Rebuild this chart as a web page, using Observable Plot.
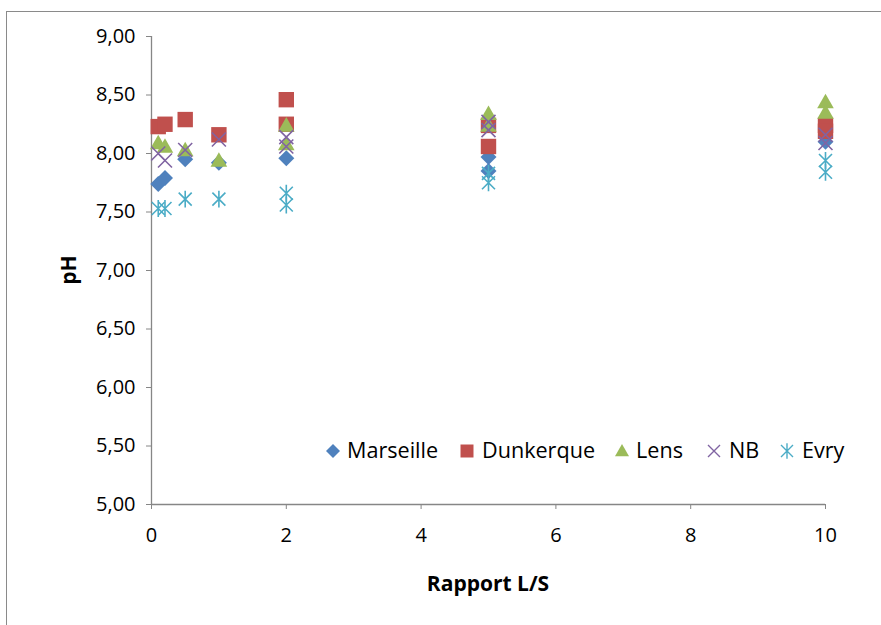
<!DOCTYPE html>
<html><head><meta charset="utf-8">
<script src="https://cdn.jsdelivr.net/npm/d3@7"></script>
<script src="https://cdn.jsdelivr.net/npm/@observablehq/plot@0.6"></script>
<style>
body{margin:0;background:#fff;}
#wrap{position:relative;width:881px;height:625px;overflow:hidden;font-family:"Open Sans",sans-serif;}
#frame{position:absolute;left:6px;top:11px;width:900px;height:700px;border-top:1.5px solid #8a8a8a;border-left:1.5px solid #8a8a8a;}
.lab{position:absolute;font-weight:bold;font-size:21px;color:#000;white-space:nowrap;}
.leg{position:absolute;font-size:21.6px;color:#000;white-space:nowrap;line-height:1;}
</style></head>
<body><div id="wrap"><div id="frame"></div></div>
<script>
// ---- data ----
const xTicks = [0, 2, 4, 6, 8, 10];
const yTicks = [5, 5.5, 6, 6.5, 7, 7.5, 8, 8.5, 9];
const seriesNames = ["Marseille", "Dunkerque", "Lens", "NB", "Evry"];
const seriesColors = ["#4F81BD", "#C0504D", "#9BBB59", "#8064A2", "#4BACC6"];
const marseilleX = [0.1, 0.2, 0.5, 1, 2, 5, 5, 10];
const marseilleY = [7.74, 7.79, 7.95, 7.92, 7.96, 7.97, 7.85, 8.10];
const dunkerqueX = [0.1, 0.2, 0.5, 1, 2, 2, 5, 5, 10, 10];
const dunkerqueY = [8.23, 8.25, 8.29, 8.16, 8.46, 8.25, 8.06, 8.24, 8.24, 8.19];
const lensX = [0.1, 0.2, 0.5, 1, 2, 2, 5, 5, 10, 10];
const lensY = [8.09, 8.06, 8.03, 7.94, 8.24, 8.08, 8.34, 8.24, 8.44, 8.35];
const nbX = [0.1, 0.2, 0.5, 1, 2, 2, 5, 5, 10, 10];
const nbY = [8.00, 7.94, 8.03, 8.12, 8.14, 8.06, 8.27, 8.20, 8.16, 8.09];
const evryX = [0.1, 0.2, 0.5, 1, 2, 2, 5, 5, 10, 10];
const evryY = [7.53, 7.53, 7.61, 7.61, 7.66, 7.56, 7.83, 7.75, 7.94, 7.84];

// ---- symbols ----
const rr = s => Math.sqrt(s / Math.PI);
const symDiamond = {draw(c, s){const r=rr(s);c.moveTo(0,-r);c.lineTo(r,0);c.lineTo(0,r);c.lineTo(-r,0);c.closePath();}};
const symSquare = {draw(c, s){const r=rr(s);c.moveTo(-r,-r);c.lineTo(r,-r);c.lineTo(r,r);c.lineTo(-r,r);c.closePath();}};
const symTriangle = {draw(c, s){const r=rr(s);c.moveTo(0,-r);c.lineTo(r,r*0.75);c.lineTo(-r,r*0.75);c.closePath();}};
const symTimes = {draw(c, s){const r=rr(s);c.moveTo(-r,-r);c.lineTo(r,r);c.moveTo(r,-r);c.lineTo(-r,r);}};
const symAster = {draw(c, s){const r=rr(s);c.moveTo(-r,-r);c.lineTo(r,r);c.moveTo(r,-r);c.lineTo(-r,r);c.moveTo(0,-r*1.3);c.lineTo(0,r*1.3);}};

const zip = (xs, ys) => xs.map((x, i) => ({x, y: ys[i]}));
const specs = [
  {data: zip(marseilleX, marseilleY), sym: symDiamond, r: 8, filled: true},
  {data: zip(dunkerqueX, dunkerqueY), sym: symSquare, r: 7.7, filled: true},
  {data: zip(lensX, lensY), sym: symTriangle, r: 8.3, filled: true},
  {data: zip(nbX, nbY), sym: symTimes, r: 7, filled: false},
  {data: zip(evryX, evryY), sym: symAster, r: 6.5, filled: false}
];

const fmt = d => d.toFixed(2).replace(".", ",");
const axisColor = "#868686";

const marks = [
  Plot.axisY({ticks: yTicks, tickFormat: fmt, tickSize: 5, tickPadding: 11, fontSize: 20, stroke: axisColor, color: "#000", label: null}),
  Plot.axisX({ticks: xTicks, tickSize: 5, tickPadding: 18, fontSize: 20, stroke: axisColor, label: null}),
  Plot.ruleX([0], {stroke: axisColor, strokeWidth: 1.3}),
  Plot.ruleY([5], {stroke: axisColor, strokeWidth: 1.3})
];
specs.forEach((sp, i) => {
  marks.push(Plot.dot(sp.data, {x: "x", y: "y", symbol: sp.sym, r: sp.r,
    fill: sp.filled ? seriesColors[i] : "none",
    stroke: sp.filled ? "none" : seriesColors[i],
    strokeWidth: sp.filled ? 0 : 1.6}));
});

const chart = Plot.plot({
  width: 881, height: 625,
  marginLeft: 151, marginRight: 56, marginTop: 36, marginBottom: 121,
  style: {fontFamily: "Open Sans, sans-serif", background: "transparent", color: "#000"},
  x: {domain: [0, 10]},
  y: {domain: [5, 9]},
  marks
});
chart.style.position = "absolute";
chart.style.left = "0px";
chart.style.top = "0px";
const wrap = document.getElementById("wrap");
wrap.appendChild(chart);

// axis titles
const xl = document.createElement("div");
xl.className = "lab"; xl.textContent = "Rapport L/S";
xl.style.left = "488px"; xl.style.top = "583px"; xl.style.transform = "translate(-50%,-50%)";
wrap.appendChild(xl);
const yl = document.createElement("div");
yl.className = "lab"; yl.textContent = "pH";
yl.style.left = "68px"; yl.style.top = "270px"; yl.style.transform = "translate(-50%,-50%) rotate(-90deg)";
wrap.appendChild(yl);

// legend
const legSyms = [symDiamond, symSquare, symTriangle, symTimes, symAster];
const legR = [7, 6.5, 7, 6, 6];
const legMarkX = [333, 467, 622, 714, 787];
const legTextX = [347, 482, 636, 729, 802];
seriesNames.forEach((name, i) => {
  const ns = "http://www.w3.org/2000/svg";
  const s = document.createElementNS(ns, "svg");
  s.setAttribute("width", 20); s.setAttribute("height", 20);
  s.style.position = "absolute";
  s.style.left = (legMarkX[i] - 10) + "px"; s.style.top = (451 - 10) + "px";
  const p = document.createElementNS(ns, "path");
  p.setAttribute("d", d3.symbol(legSyms[i], legR[i] * legR[i] * Math.PI)());
  p.setAttribute("transform", "translate(10,10)");
  if (i < 3) { p.setAttribute("fill", seriesColors[i]); }
  else { p.setAttribute("fill", "none"); p.setAttribute("stroke", seriesColors[i]); p.setAttribute("stroke-width", 1.4); }
  s.appendChild(p);
  wrap.appendChild(s);
  const t = document.createElement("div");
  t.className = "leg"; t.textContent = name;
  t.style.left = legTextX[i] + "px"; t.style.top = "451px"; t.style.transform = "translateY(-55%)";
  wrap.appendChild(t);
});
</script>
</body></html>
